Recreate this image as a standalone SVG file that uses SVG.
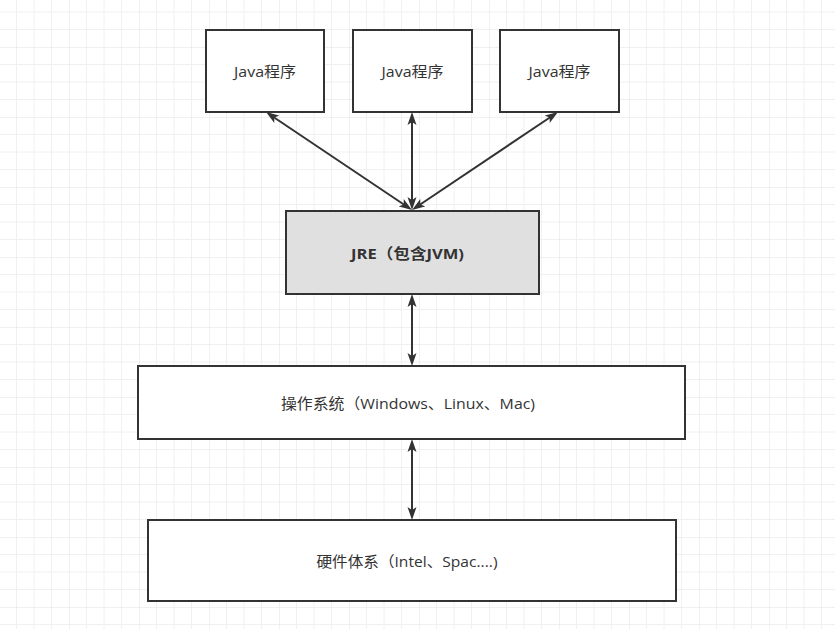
<svg xmlns="http://www.w3.org/2000/svg" width="835" height="629" viewBox="0 0 835 629">
<style>
  .box { stroke: #333333; stroke-width: 2; fill: #ffffff; }
  .jre { fill: #e0e0e0; }
  .lbl { font-family: "Open Sans", "Noto Sans CJK SC", sans-serif; font-size: 15px; fill: #333333; text-anchor: middle; dominant-baseline: central; }
  .bold { font-weight: bold; }
  .conn { stroke: #333333; stroke-width: 2; fill: none; marker-start: url(#arr); marker-end: url(#arr); }
</style>
<defs>
  <pattern id="grid" patternUnits="userSpaceOnUse" x="-1" y="47" width="70" height="70">
    <path d="M17.5 0V70M35 0V70M52.5 0V70M0 17.5H70M0 35H70M0 52.5H70" stroke="#f0f0f0" stroke-width="1" fill="none"/>
    <path d="M0 0V70M0 0H70" stroke="#e2e2e2" stroke-width="1" fill="none"/>
  </pattern>
  <marker id="arr" markerUnits="userSpaceOnUse" markerWidth="14" markerHeight="10" viewBox="0 0 14 10" refX="9" refY="5" orient="auto-start-reverse">
    <path d="M0 0.5L13 5L0 9.5L3 5Z" fill="#333333"/>
  </marker>
</defs>
<rect width="835" height="629" fill="#ffffff"/>
<rect width="835" height="629" fill="url(#grid)"/>

<g id="connectors">
  <path class="conn" d="M408.68 207.77L269.32 114.23"/>
  <path class="conn" d="M412 206L412 116"/>
  <path class="conn" d="M415.32 207.77L554.68 114.23"/>
  <path class="conn" d="M412 298L412 362"/>
  <path class="conn" d="M412 443L412 516"/>
</g>

<g id="java1">
  <rect class="box" x="206" y="30" width="118" height="82"/>
  <text class="lbl" x="265" y="71" textLength="62" lengthAdjust="spacingAndGlyphs">Java程序</text>
</g>
<g id="java2">
  <rect class="box" x="353" y="30" width="119" height="82"/>
  <text class="lbl" x="412.5" y="71" textLength="62" lengthAdjust="spacingAndGlyphs">Java程序</text>
</g>
<g id="java3">
  <rect class="box" x="500" y="30" width="119" height="82"/>
  <text class="lbl" x="559.5" y="71" textLength="62" lengthAdjust="spacingAndGlyphs">Java程序</text>
</g>
<g id="jre">
  <rect class="box jre" x="286" y="211" width="253" height="83"/>
  <text class="lbl bold" x="407.5" y="252.5" textLength="113" lengthAdjust="spacingAndGlyphs">JRE（包含JVM)</text>
</g>
<g id="os">
  <rect class="box" x="138" y="366" width="547" height="73"/>
  <text class="lbl" x="408" y="402.5" textLength="254" lengthAdjust="spacingAndGlyphs">操作系统（Windows、Linux、Mac)</text>
</g>
<g id="hw">
  <rect class="box" x="148" y="520" width="528" height="81"/>
  <text class="lbl" x="407" y="560.5" textLength="181" lengthAdjust="spacingAndGlyphs">硬件体系（Intel、Spac....)</text>
</g>
</svg>
